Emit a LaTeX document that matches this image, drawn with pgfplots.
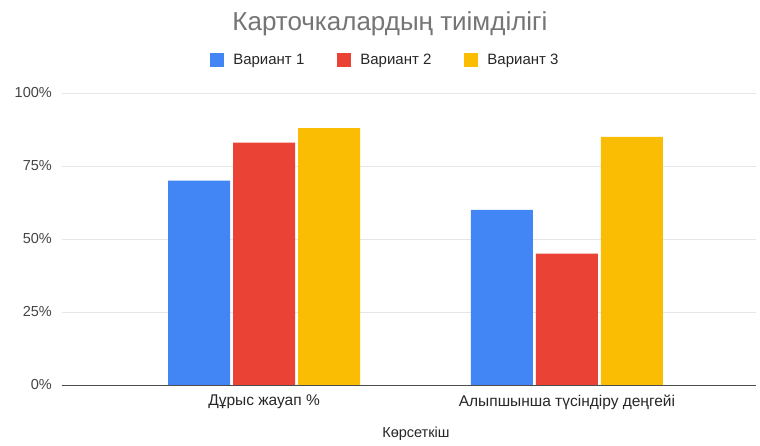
\documentclass[border=0pt]{standalone}
\usepackage{pgfplots}
\pgfplotsset{compat=1.18}
\usepackage{fontspec}
\setmainfont{Liberation Sans}
\definecolor{gblue}{HTML}{4285F4}
\definecolor{gred}{HTML}{EA4335}
\definecolor{gyellow}{HTML}{FBBC04}
\definecolor{gridc}{HTML}{E6E6E6}
\definecolor{tickc}{HTML}{444444}
\definecolor{titlec}{HTML}{757575}
\begin{document}
\begin{tikzpicture}
\useasboundingbox (-62pt,-61pt) rectangle (698pt,385pt);
\begin{axis}[
  at={(0pt,0pt)}, anchor=south west,
  scale only axis, width=694pt, height=292pt,
  ybar=3pt, bar width=62pt,
  xmin=-0.667, xmax=1.624,
  ymin=0, ymax=100,
  xtick={0,1},
  xticklabels={Дұрыс жауап \%, Алыпшынша түсіндіру деңгейі},
  ytick={0,25,50,75,100},
  yticklabel={\pgfmathprintnumber{\tick}\%},
  /pgf/number format/assume math mode=true,
  axis line style={draw=none},
  major tick length=0pt,
  ymajorgrids, grid style={gridc, line width=0.8pt},
  extra y ticks={0}, extra y tick labels={},
  extra y tick style={grid style={color=black!70, line width=0.9pt}},
  tick label style={text=tickc},
  yticklabel style={font=\fontsize{14.5}{17}\selectfont, inner sep=0pt, anchor=east, xshift=-10pt},
  xticklabel style={font=\fontsize{15.5}{18}\selectfont, inner sep=0pt, anchor=north, yshift=-10pt, text=black!85},
  xlabel={Көрсеткіш},
  xlabel style={at={(axis description cs:0.510,-0.168)}, anchor=center, inner sep=0pt, font=\fontsize{14.5}{17}\selectfont, text=black!85},
  title={Карточкалардың тиімділігі},
  title style={at={(axis description cs:0.4726,1.215)}, anchor=center, font=\fontsize{26}{30}\selectfont, text=titlec},
  legend columns=3,
  legend style={at={(axis description cs:0.466,1.113)}, anchor=center, draw=none, fill=none,
    font=\fontsize{15}{17}\selectfont, text=black!85,
    /tikz/every odd column/.append style={column sep=7pt},
    /tikz/every even column/.append style={column sep=31pt}},
  legend image code/.code={\fill[#1] (0pt,-7pt) rectangle (14pt,7pt);},
]
\addplot[fill=gblue, draw=none] coordinates {(0,70) (1,60)};
\addlegendentry{Вариант 1}
\addplot[fill=gred, draw=none] coordinates {(0,83) (1,45)};
\addlegendentry{Вариант 2}
\addplot[fill=gyellow, draw=none] coordinates {(0,88) (1,85)};
\addlegendentry{Вариант 3}
\end{axis}
\end{tikzpicture}
\end{document}
